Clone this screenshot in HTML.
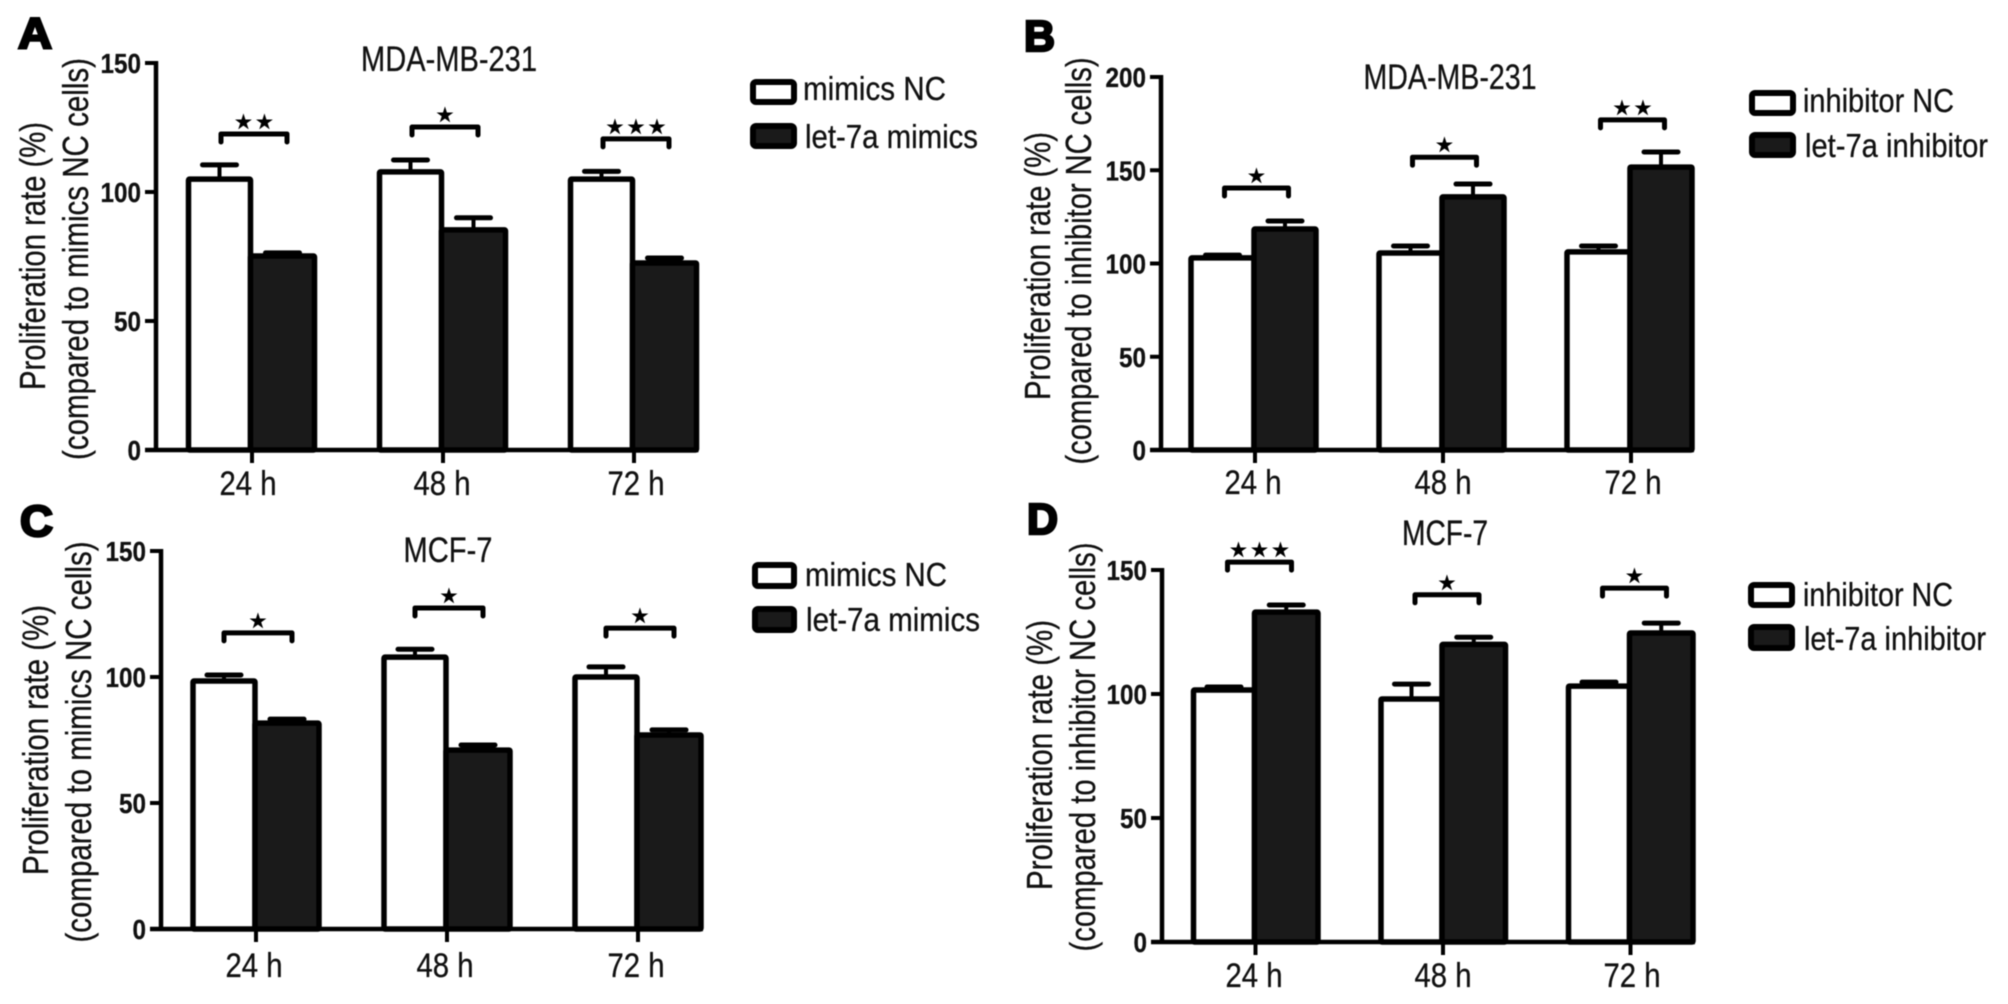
<!DOCTYPE html>
<html lang="en">
<head>
<meta charset="utf-8">
<title>Proliferation rate bar charts</title>
<style>
html,body{margin:0;padding:0;background:#fff;}
svg{display:block;filter:blur(0.6px);}
text{font-family:"Liberation Sans",Arial,sans-serif;fill:#111;stroke:#111;stroke-width:0.3px;}
.title{font-size:35px;}
.leg{font-size:33px;}
.ya{font-size:36px;}
.letter{font-size:44px;font-weight:bold;stroke:#000;stroke-width:2.5px;fill:#000;}
</style>
</head>
<body>
<svg id="fig" xmlns="http://www.w3.org/2000/svg" width="2008" height="1004" viewBox="0 0 2008 1004">
  <rect x="0" y="0" width="2008" height="1004" fill="#fff"/>

  <g id="panel-a">
    <text class="letter" x="18" y="48" textLength="34" lengthAdjust="spacingAndGlyphs">A</text>
    <text class="title" x="449" y="71" text-anchor="middle" textLength="176" lengthAdjust="spacingAndGlyphs">MDA-MB-231</text>
    <text class="ya" transform="translate(45,256) rotate(-90)" text-anchor="middle" textLength="268" lengthAdjust="spacingAndGlyphs">Proliferation rate (%)</text>
    <text class="ya" transform="translate(88,259) rotate(-90)" text-anchor="middle" textLength="402" lengthAdjust="spacingAndGlyphs">(compared to mimics NC cells)</text>
    <rect x="753" y="82" width="41" height="20" rx="3" fill="#fff" stroke="#000" stroke-width="6"/>
    <rect x="753" y="126" width="41" height="20" rx="3" fill="#1a1a1a" stroke="#000" stroke-width="6"/>
    <text class="leg" x="803" y="100" textLength="143" lengthAdjust="spacingAndGlyphs">mimics NC</text>
    <text class="leg" x="805" y="148" textLength="173" lengthAdjust="spacingAndGlyphs">let-7a mimics</text>
  </g>

  <g id="panel-b">
    <text class="letter" x="1024" y="51" textLength="31" lengthAdjust="spacingAndGlyphs">B</text>
    <text class="title" x="1450" y="89" text-anchor="middle" textLength="173" lengthAdjust="spacingAndGlyphs">MDA-MB-231</text>
    <text class="ya" transform="translate(1050,266) rotate(-90)" text-anchor="middle" textLength="268" lengthAdjust="spacingAndGlyphs">Proliferation rate (%)</text>
    <text class="ya" transform="translate(1091,261) rotate(-90)" text-anchor="middle" textLength="407" lengthAdjust="spacingAndGlyphs">(compared to inhibitor NC cells)</text>
    <rect x="1752" y="93" width="41" height="20" rx="3" fill="#fff" stroke="#000" stroke-width="6"/>
    <rect x="1752" y="135" width="41" height="20" rx="3" fill="#1a1a1a" stroke="#000" stroke-width="6"/>
    <text class="leg" x="1803" y="112" textLength="151" lengthAdjust="spacingAndGlyphs">inhibitor NC</text>
    <text class="leg" x="1805" y="157" textLength="183" lengthAdjust="spacingAndGlyphs">let-7a inhibitor</text>
  </g>

  <g id="panel-c">
    <text class="letter" x="20" y="536" textLength="33" lengthAdjust="spacingAndGlyphs">C</text>
    <text class="title" x="448" y="562" text-anchor="middle" textLength="89" lengthAdjust="spacingAndGlyphs">MCF-7</text>
    <text class="ya" transform="translate(48,740) rotate(-90)" text-anchor="middle" textLength="270" lengthAdjust="spacingAndGlyphs">Proliferation rate (%)</text>
    <text class="ya" transform="translate(91,742) rotate(-90)" text-anchor="middle" textLength="401" lengthAdjust="spacingAndGlyphs">(compared to mimics NC cells)</text>
    <rect x="755" y="565" width="39" height="21" rx="3" fill="#fff" stroke="#000" stroke-width="6"/>
    <rect x="755" y="609" width="39" height="21" rx="3" fill="#1a1a1a" stroke="#000" stroke-width="6"/>
    <text class="leg" x="805" y="586" textLength="142" lengthAdjust="spacingAndGlyphs">mimics NC</text>
    <text class="leg" x="806" y="631" textLength="174" lengthAdjust="spacingAndGlyphs">let-7a mimics</text>
  </g>

  <g id="panel-d">
    <text class="letter" x="1027" y="534" textLength="31" lengthAdjust="spacingAndGlyphs">D</text>
    <text class="title" x="1445" y="545" text-anchor="middle" textLength="86" lengthAdjust="spacingAndGlyphs">MCF-7</text>
    <text class="ya" transform="translate(1052,755) rotate(-90)" text-anchor="middle" textLength="270" lengthAdjust="spacingAndGlyphs">Proliferation rate (%)</text>
    <text class="ya" transform="translate(1095,747) rotate(-90)" text-anchor="middle" textLength="409" lengthAdjust="spacingAndGlyphs">(compared to inhibitor NC cells)</text>
    <rect x="1751" y="585" width="41" height="20" rx="3" fill="#fff" stroke="#000" stroke-width="6"/>
    <rect x="1751" y="627" width="41" height="21" rx="3" fill="#1a1a1a" stroke="#000" stroke-width="6"/>
    <text class="leg" x="1803" y="606" textLength="150" lengthAdjust="spacingAndGlyphs">inhibitor NC</text>
    <text class="leg" x="1804" y="650" textLength="182" lengthAdjust="spacingAndGlyphs">let-7a inhibitor</text>
  </g>
</svg>

<script>
// Shared categories
const categories = ['24 h', '48 h', '72 h'];

// Panel A data
const aTicks = [0, 50, 100, 150];
const aControl = [105, 107.8, 105];
const aControlTop = [110.5, 112.4, 108];
const aTreated = [75.2, 85.3, 72.5];
const aTreatedTop = [76.4, 90, 74.4];
const aBracket = [122.5, 125.2, 120.6];
const aStars = [2, 1, 3];

// Panel B data
const bTicks = [0, 50, 100, 150, 200];
const bControl = [103, 105.6, 106.2];
const bControlTop = [104.5, 109.4, 109.4];
const bTreated = [118.5, 135.7, 151.7];
const bTreatedTop = [122.8, 142.6, 159.8];
const bBracket = [140.5, 157, 177];
const bStars = [1, 1, 2];

// Panel C data
const cTicks = [0, 50, 100, 150];
const cControl = [98.4, 107.9, 100];
const cControlTop = [100.8, 111, 104];
const cTreated = [81.7, 71, 77];
const cTreatedTop = [83.3, 73, 79];
const cBracket = [117.5, 127.4, 119.4];
const cStars = [1, 1, 1];

// Panel D data
const dTicks = [0, 50, 100, 150];
const dControl = [101.6, 98, 103.2];
const dControlTop = [102.8, 104, 104.8];
const dTreated = [133, 120, 124.6];
const dTreatedTop = [135.9, 122.9, 128.6];
const dBracket = [153.2, 140, 142.7];
const dStars = [3, 1, 1];

const SVG_NS = 'http://www.w3.org/2000/svg';
function mk(tag, attrs, parent, txt) {
  const el = document.createElementNS(SVG_NS, tag);
  for (const k in attrs) el.setAttribute(k, attrs[k]);
  if (txt !== undefined) el.textContent = txt;
  parent.appendChild(el);
  return el;
}

function drawPanel(p, d) {
  const root = document.getElementById(p.id);
  const yOf = v => p.y0 - v * p.pxPerUnit;
  const xOf = i => p.firstX + i * p.stepX;
  const LW = 4.5;
  const BW = 5.5;

  // Y axis
  const maxTick = d.ticks[d.ticks.length - 1];
  const yAxis = mk('line', {x1: p.axisX, x2: p.axisX, y1: p.y0 + 2, y2: yOf(maxTick) - 2, stroke: '#000', 'stroke-width': LW}, root);
  
  

  d.ticks.forEach(t => {
    const tick = mk('line', {x1: p.axisX - 11, x2: p.axisX, y1: yOf(t), y2: yOf(t), stroke: '#000', 'stroke-width': 4}, root);
    
    
    const s = String(t);
    const lab = mk('text', {x: p.axisX - 15, y: yOf(t) + 10, 'text-anchor': 'end', 'font-size': 28, 'font-weight': 'bold', textLength: s.length * 13.5, lengthAdjust: 'spacingAndGlyphs'}, root, s);
    
    
  });

  // X axis baseline
  const lastEnd = xOf(categories.length - 1) + p.darkW + 2;
  const xAxis = mk('line', {x1: p.axisX - 11, x2: lastEnd, y1: p.y0, y2: p.y0, stroke: '#000', 'stroke-width': LW}, root);
  
  

  categories.forEach((c, i) => {
    const cx = xOf(i);
    const capHalf = 17;

    // Error bars
    [[d.control[i], d.controlTop[i], -p.whiteW / 2], [d.treated[i], d.treatedTop[i], p.darkW / 2]].forEach(e => {
      const ex = cx + e[2];
      const stem = mk('line', {x1: ex, x2: ex, y1: yOf(e[0]), y2: yOf(e[1]), stroke: '#000', 'stroke-width': 4}, root);
      
      
      const cap = mk('line', {x1: ex - capHalf, x2: ex + capHalf, y1: yOf(e[1]), y2: yOf(e[1]), stroke: '#000', 'stroke-width': 5, 'stroke-linecap': 'round'}, root);
      
      
    });

    // Bars
    const barC = mk('rect', {x: cx - p.whiteW, y: yOf(d.control[i]), width: p.whiteW, height: p.y0 - yOf(d.control[i]), fill: '#fff', stroke: '#000', 'stroke-width': BW, rx: 1}, root);
    
    
    const barT = mk('rect', {x: cx, y: yOf(d.treated[i]), width: p.darkW, height: p.y0 - yOf(d.treated[i]), fill: '#1a1a1a', stroke: '#000', 'stroke-width': BW, rx: 1}, root);
    
    

    // X tick and label
    const xt = mk('line', {x1: cx + p.tickOff, x2: cx + p.tickOff, y1: p.y0, y2: p.y0 + 13, stroke: '#000', 'stroke-width': 4}, root);
    
    
    const xl = mk('text', {x: p.labelFirst + i * p.labelStep, y: p.y0 + p.labelDy, 'text-anchor': 'middle', 'font-size': 34, textLength: 57, lengthAdjust: 'spacingAndGlyphs'}, root, c);
    
    

    // Significance bracket
    const bx = cx + p.brOff, by = yOf(d.bracket[i]), h = p.brHalf;
    const br = mk('path', {d: 'M' + (bx - h) + ' ' + (by + 8) + 'V' + by + 'H' + (bx + h) + 'V' + (by + 8), fill: 'none', stroke: '#000', 'stroke-width': 5, 'stroke-linecap': 'round', 'stroke-linejoin': 'round'}, root);
    
    
    const n = d.stars[i];
    for (let k = 0; k < n; k++) {
      const sx = bx + (k - (n - 1) / 2) * 21;
      const st = mk('text', {x: sx, y: by - 6, 'text-anchor': 'middle', 'font-size': 18, style: 'font-family:"DejaVu Sans",sans-serif;fill:#000;stroke:#000;stroke-width:1px'}, root, '\u2605');
      
      
    }
  });
}

drawPanel(
  {id: 'panel-a', axisX: 156, y0: 450, pxPerUnit: 2.58, firstX: 250.5, stepX: 191, whiteW: 62, darkW: 64, tickOff: 1.5, labelFirst: 248, labelStep: 194, labelDy: 45, brOff: 3.5, brHalf: 33},
  {ticks: aTicks, control: aControl, controlTop: aControlTop, treated: aTreated, treatedTop: aTreatedTop, bracket: aBracket, stars: aStars}
);
drawPanel(
  {id: 'panel-b', axisX: 1161, y0: 450, pxPerUnit: 1.865, firstX: 1254, stepX: 188, whiteW: 63, darkW: 62, tickOff: 1, labelFirst: 1253, labelStep: 190, labelDy: 44, brOff: 2.5, brHalf: 32},
  {ticks: bTicks, control: bControl, controlTop: bControlTop, treated: bTreated, treatedTop: bTreatedTop, bracket: bBracket, stars: bStars}
);
drawPanel(
  {id: 'panel-c', axisX: 161, y0: 929, pxPerUnit: 2.52, firstX: 255, stepX: 191, whiteW: 62, darkW: 64, tickOff: 1, labelFirst: 254, labelStep: 191, labelDy: 48, brOff: 3, brHalf: 34},
  {ticks: cTicks, control: cControl, controlTop: cControlTop, treated: cTreated, treatedTop: cTreatedTop, bracket: cBracket, stars: cStars}
);
drawPanel(
  {id: 'panel-d', axisX: 1162, y0: 942, pxPerUnit: 2.48, firstX: 1254.5, stepX: 187.5, whiteW: 61, darkW: 63.5, tickOff: 1, labelFirst: 1254, labelStep: 189, labelDy: 45, brOff: 5, brHalf: 32},
  {ticks: dTicks, control: dControl, controlTop: dControlTop, treated: dTreated, treatedTop: dTreatedTop, bracket: dBracket, stars: dStars}
);
</script>
</body>
</html>
